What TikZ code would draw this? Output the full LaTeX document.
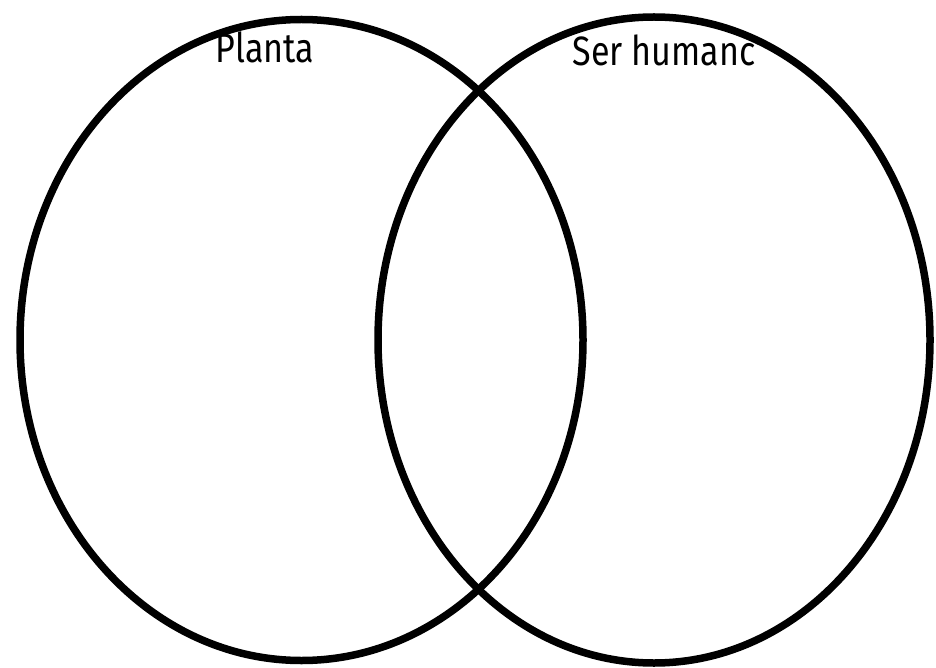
\documentclass[tikz,border=0pt]{standalone}
\usepackage{fontspec}
\setmainfont{Fira Sans}
\usetikzlibrary{shapes.geometric}
\begin{document}
\begin{tikzpicture}[x=1pt,y=-1pt,
  setring/.style={draw=black, line width=7.5pt, ellipse, inner sep=0pt, fill=none},
  setlabel/.style={font=\fontsize{41}{41}\selectfont, inner sep=0pt, xscale=0.83, transform shape}]
  \useasboundingbox (0,0) rectangle (936,668);
  \fill[white] (0,0) rectangle (936,668);
  \node[setring, minimum width=563pt, minimum height=641pt] (planta) at (301.5,340) {};
  \node[setring, minimum width=552pt, minimum height=646pt] (humano) at (654,340) {};
  \node[setlabel] (lp) at (265,47) {Planta};
  \node[setlabel] (lh) at (664,50) {Ser humanc};
\end{tikzpicture}
\end{document}
